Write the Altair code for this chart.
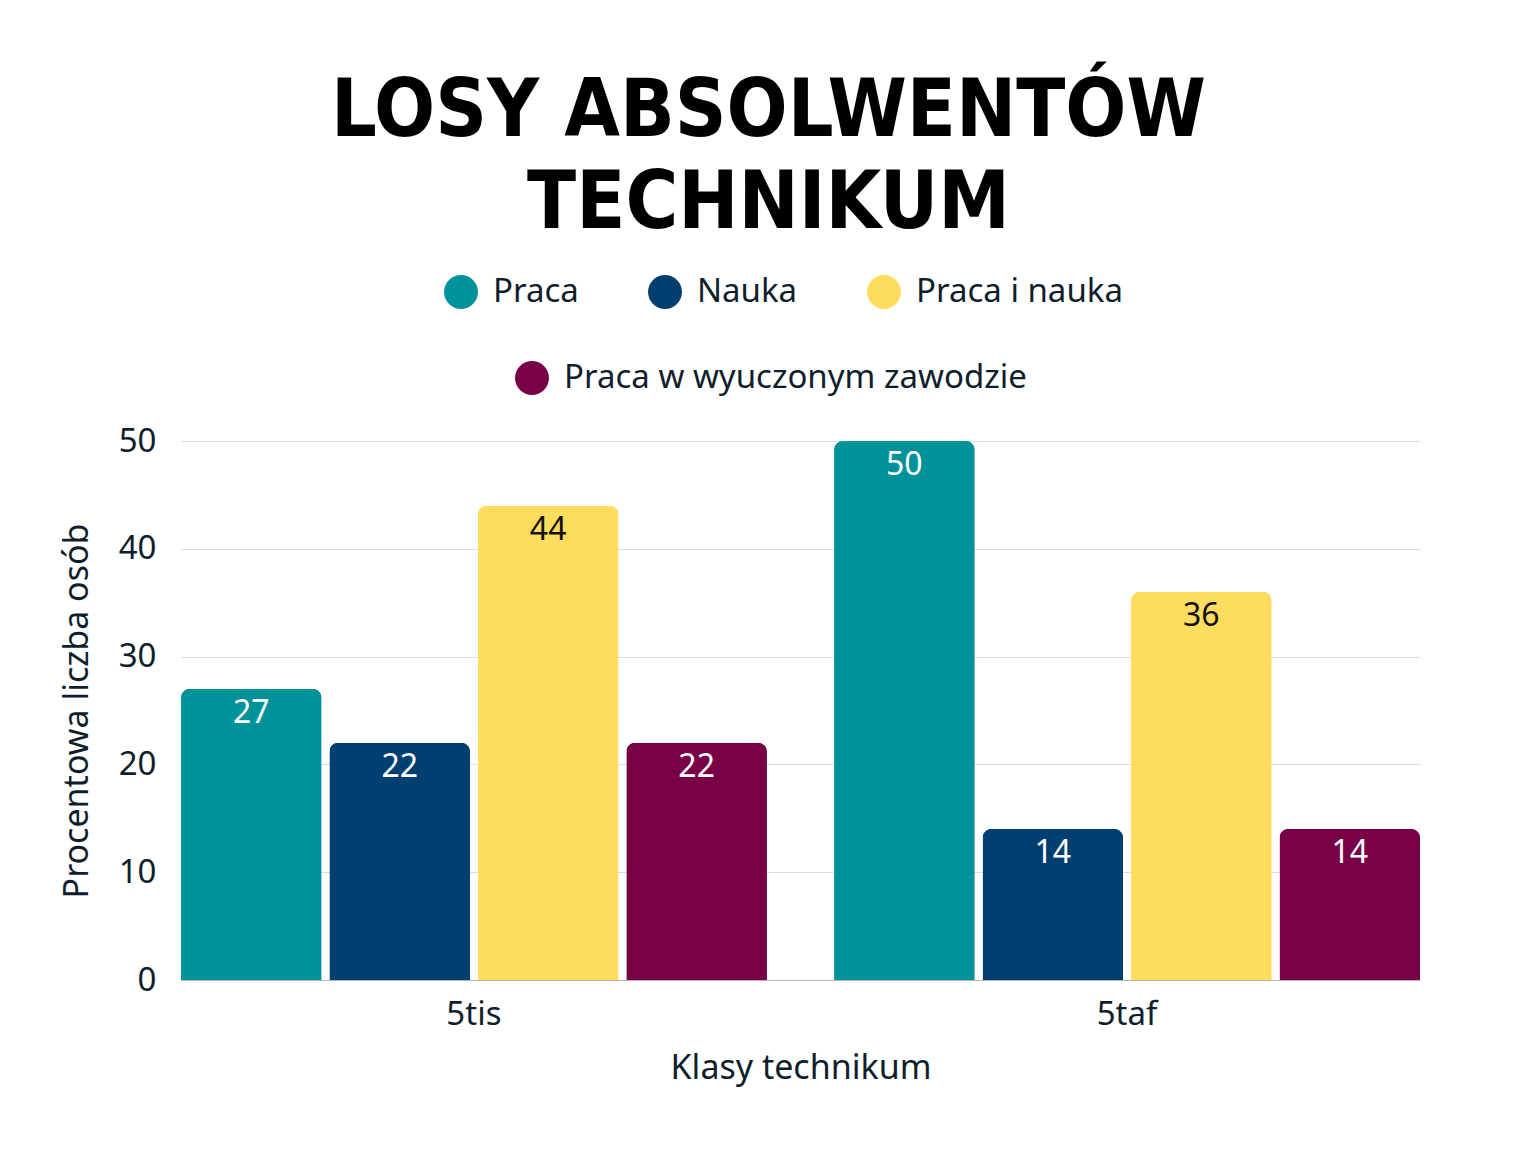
import pandas as pd
import altair as alt

# -----------------------------
# 1. Data
# -----------------------------
klasy = ["5tis", "5taf"]
kategorie = ["Praca", "Nauka", "Praca i nauka", "Praca w wyuczonym zawodzie"]
kolory = ["#009298", "#003F6F", "#FEDC5E", "#780046"]

wartosci_5tis = [27, 22, 44, 22]
wartosci_5taf = [50, 14, 36, 14]

rows = []
for k, v in zip(kategorie, wartosci_5tis):
    rows.append({"klasa": "5tis", "kategoria": k, "wartosc": v})
for k, v in zip(kategorie, wartosci_5taf):
    rows.append({"klasa": "5taf", "kategoria": k, "wartosc": v})
df = pd.DataFrame(rows)

FONT = "Noto Sans"
TXT = "#0f1e2c"
TITLE_FONT = "Liberation Sans Narrow, Arial Narrow, DejaVu Sans Condensed, sans-serif"

# -----------------------------
# 2. Encodings
# -----------------------------
x_enc = alt.X(
    "klasa:N",
    sort=klasy,
    title="Klasy technikum",
    scale=alt.Scale(paddingInner=0.103, paddingOuter=0),
    axis=alt.Axis(labelAngle=0, ticks=False, domain=True, domainColor="#b8b8b8",
                  labelPadding=18, titlePadding=20),
)
xoff_enc = alt.XOffset("kategoria:N", sort=kategorie,
                       scale=alt.Scale(paddingInner=0.054, paddingOuter=0))
y_enc = alt.Y(
    "wartosc:Q",
    title="Procentowa liczba osób",
    scale=alt.Scale(domain=[0, 50], nice=False),
    axis=alt.Axis(values=[0, 10, 20, 30, 40, 50], ticks=False, domain=False,
                  gridColor="#dcdcdc", labelPadding=25, titlePadding=24),
)


def legenda(values, lx, ly):
    return alt.Legend(
        title=None, orient="none", legendX=lx, legendY=ly,
        direction="horizontal", values=values,
        symbolType="circle", symbolSize=1150, symbolStrokeWidth=0,
        symbolOpacity=1, labelFontSize=33, labelFont=FONT, labelColor=TXT,
        labelOffset=15, columnPadding=69, padding=0, labelLimit=600,
    )


color_scale = alt.Scale(domain=kategorie, range=kolory)

# first legend row: three entries
bars = alt.Chart(df).mark_bar(cornerRadiusTopLeft=9, cornerRadiusTopRight=9).encode(
    x=x_enc,
    xOffset=xoff_enc,
    y=y_enc,
    color=alt.Color("kategoria:N", sort=kategorie, scale=color_scale,
                    legend=legenda(kategorie[:3], 263, -166)),
)

# same bars again, carrying the second legend row
bars2 = alt.Chart(df).mark_bar(cornerRadiusTopLeft=9, cornerRadiusTopRight=9).encode(
    x=x_enc,
    xOffset=xoff_enc,
    y=y_enc,
    color=alt.Color("kategoria:N", sort=kategorie, scale=color_scale,
                    legend=legenda(kategorie[3:], 334, -80)),
)

labels = alt.Chart(df).mark_text(
    baseline="middle", dy=24, fontSize=32, font=FONT
).encode(
    x=alt.X("klasa:N", sort=klasy),
    xOffset=alt.XOffset("kategoria:N", sort=kategorie),
    y="wartosc:Q",
    text="wartosc:Q",
    color=alt.condition(alt.datum.kategoria == "Praca i nauka",
                        alt.value("#111111"), alt.value("#ffffff")),
)

chart = alt.layer(bars, bars2, labels).resolve_scale(
    color="independent"
).properties(
    width=1239,
    height=539,
    autosize=alt.AutoSizeParams(type="none"),
    padding={"left": 173, "top": 433, "right": 108, "bottom": 164},
    title=alt.TitleParams(
        text=["LOSY ABSOLWENTÓW", "TECHNIKUM"],
        font=TITLE_FONT,
        fontSize=80,
        fontWeight="bold",
        color="#000000",
        lineHeight=92,
        anchor="middle",
        dx=-32,
        offset=30,
    ),
).configure_axis(
    labelFont=FONT, titleFont=FONT, labelFontSize=33, titleFontSize=34,
    labelColor=TXT, titleColor=TXT, titleFontWeight="normal",
).configure_view(stroke=None)

chart.save("out.html", embed_options={"renderer": "svg", "actions": False})
